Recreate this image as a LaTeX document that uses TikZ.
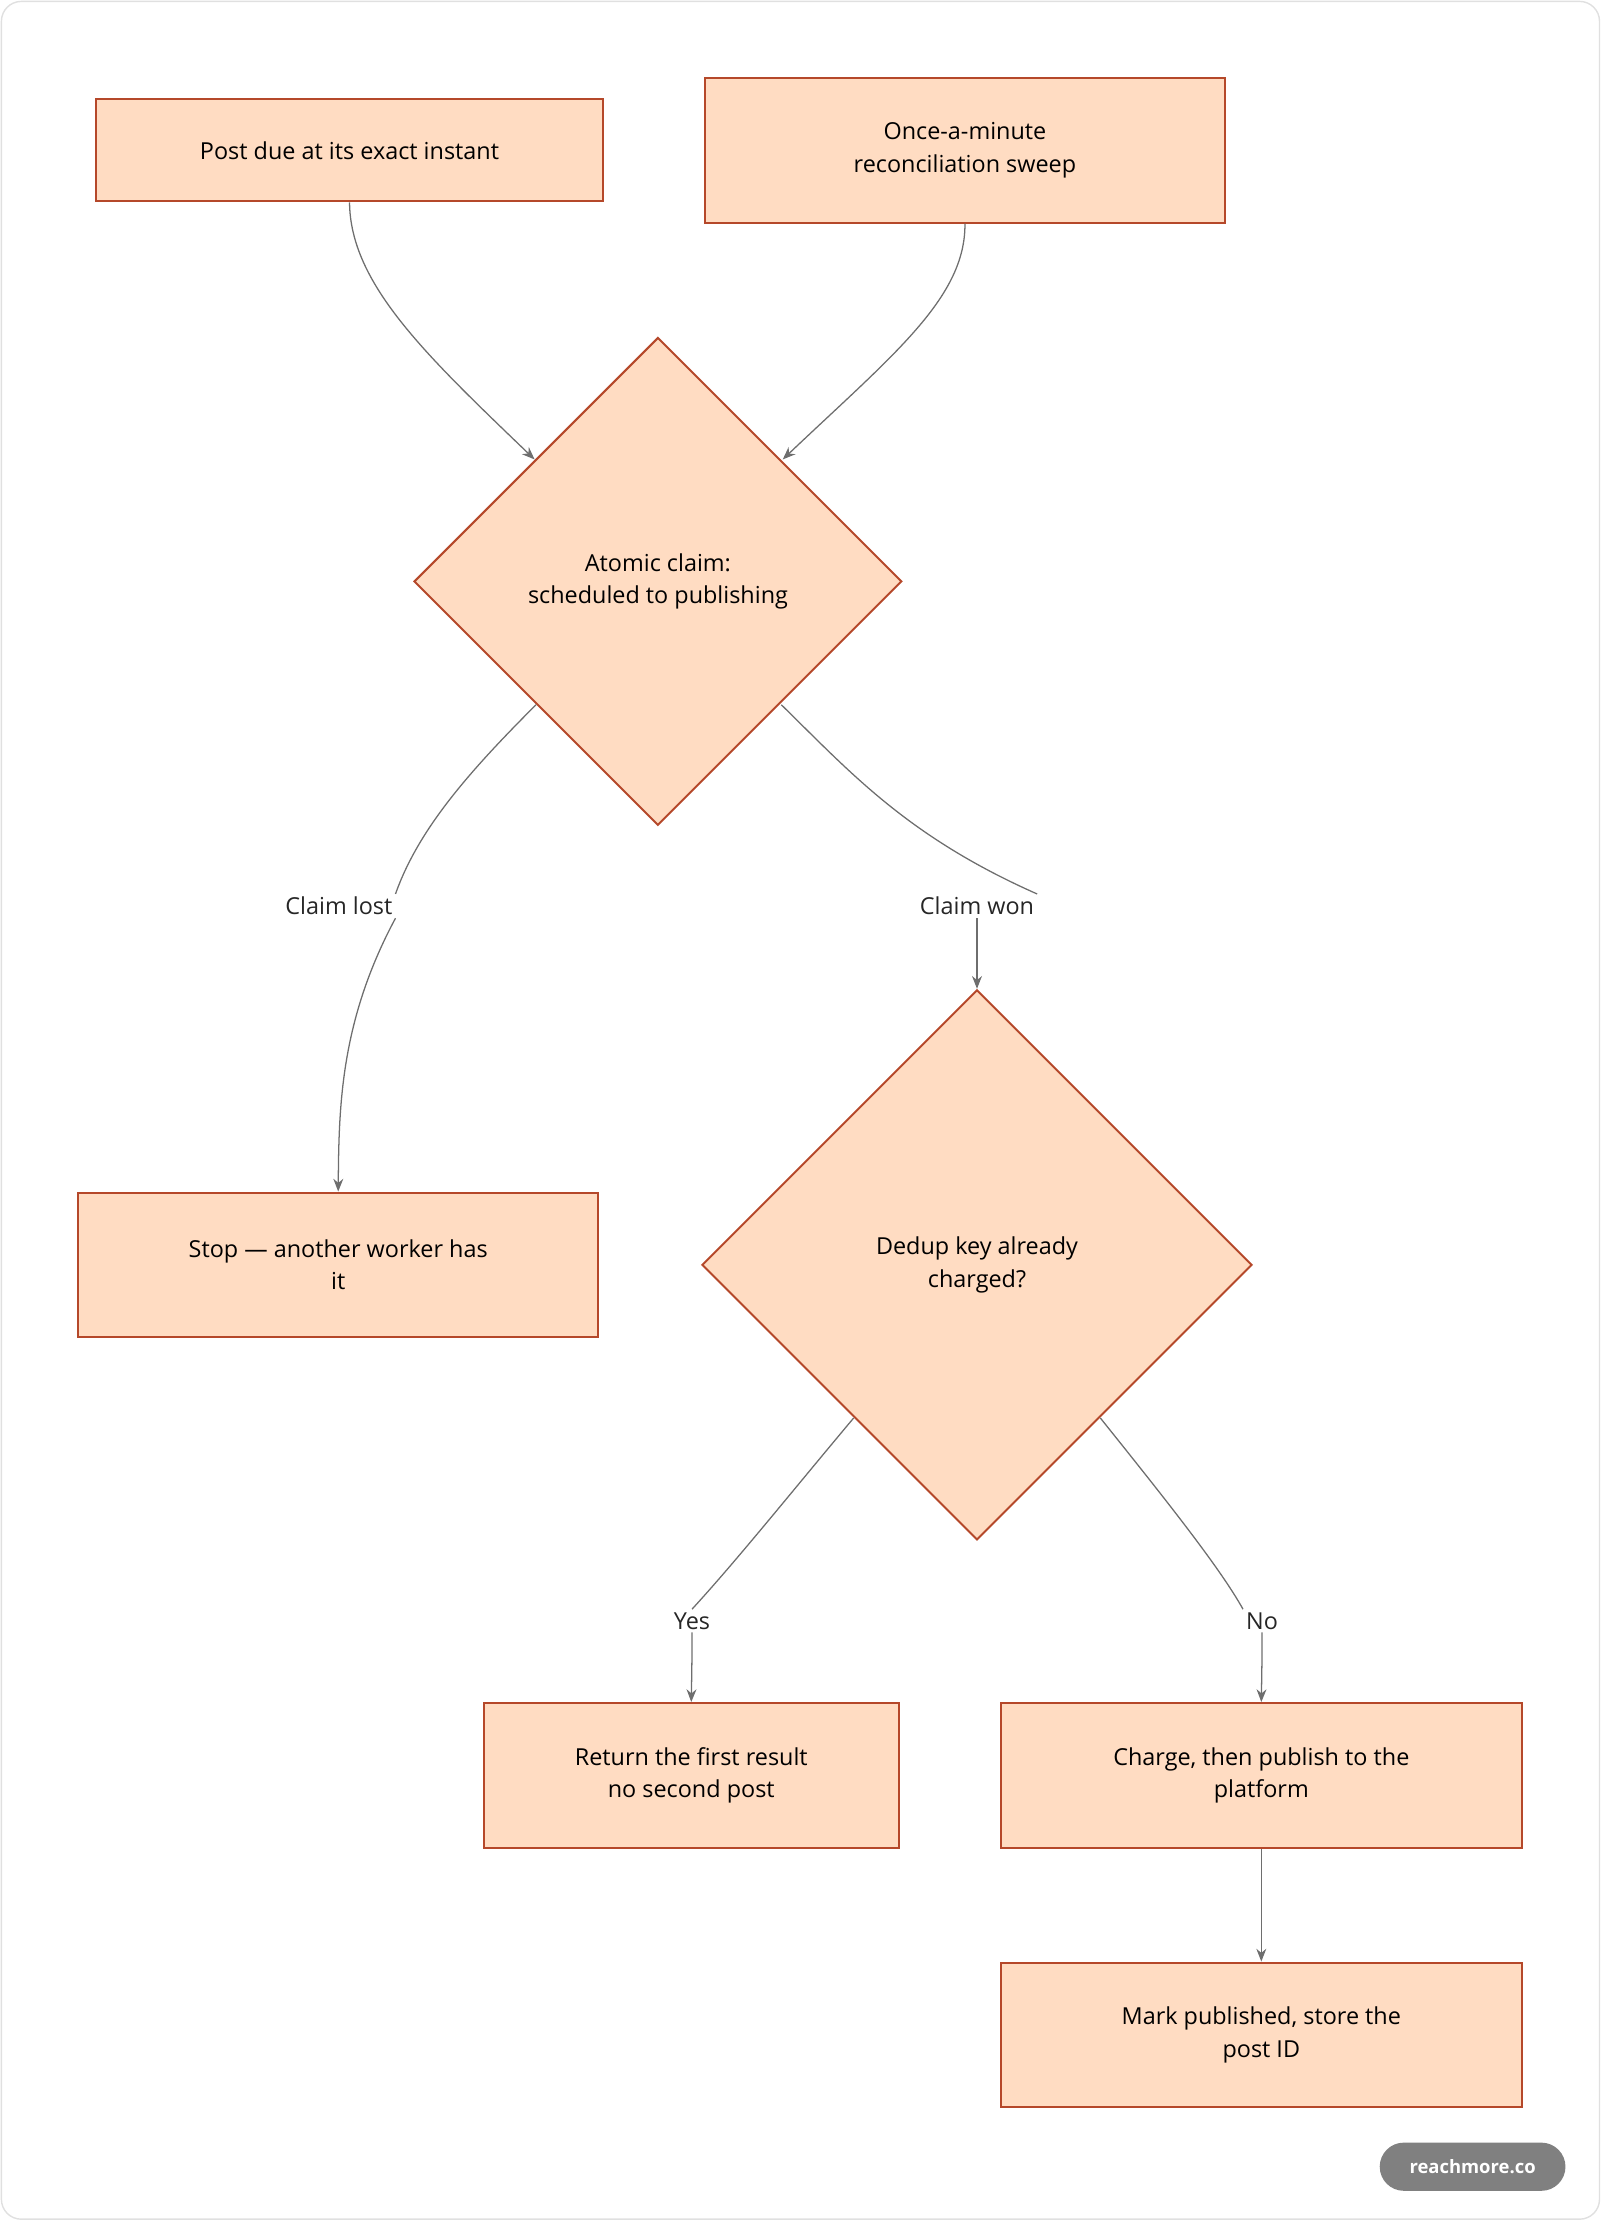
\documentclass[tikz,border=0pt]{standalone}
\usepackage{fontspec}
\setmainfont{Open Sans}
\usetikzlibrary{shapes.geometric,arrows.meta}
\definecolor{nfill}{HTML}{FFDCC2}
\definecolor{nline}{HTML}{B5482A}
\definecolor{eline}{HTML}{6E6E6E}
\begin{document}
\begin{tikzpicture}[x=1pt,y=-1pt,
  font=\fontsize{16.5}{23}\selectfont,
  box/.style={draw=nline,fill=nfill,line width=1.4pt,align=center,inner sep=0pt},
  dia/.style={diamond,draw=nline,fill=nfill,line width=1.4pt,align=center,inner sep=0pt,aspect=1},
  lab/.style={inner sep=2pt,text=black!85},
  edge/.style={draw=eline,line width=0.9pt,-{Stealth[length=9pt,width=7pt]}},
  seg/.style={draw=eline,line width=0.9pt}]
\useasboundingbox (0,0) rectangle (1130,1567);
\draw[black!12,line width=1pt,rounded corners=14pt] (1,1) rectangle (1128,1565);
\node[box,minimum width=357pt,minimum height=72pt] (A) at (246.5,106) {Post due at its exact instant};
\node[box,minimum width=367pt,minimum height=102pt] (B) at (680.5,106) {Once-a-minute\\reconciliation sweep};
\node[dia,minimum size=344pt] (D1) at (464,410) {Atomic claim:\\scheduled to publishing};
\node[box,minimum width=367pt,minimum height=102pt] (C) at (238.5,892) {Stop — another worker has\\it};
\node[dia,minimum size=388pt] (D2) at (689,892) {Dedup key already\\charged?};
\node[box,minimum width=293pt,minimum height=102pt] (E) at (487.5,1252) {Return the first result\\no second post};
\node[box,minimum width=367pt,minimum height=102pt] (F) at (889.5,1252) {Charge, then publish to the\\platform};
\node[box,minimum width=367pt,minimum height=102pt] (G) at (889.5,1435) {Mark published, store the\\post ID};
\node[lab] (L1) at (239,639) {Claim lost};
\node[lab] (L2) at (689,639) {Claim won};
\node[lab] (L3) at (488,1143) {Yes};
\node[lab] (L4) at (890,1143) {No};
\coordinate (d1t1) at (377,324);
\coordinate (d1t2) at (552,324);
\draw[edge] (A.south) .. controls (247,200) and (300,250) .. (d1t1);
\draw[edge] (B.south) .. controls (681,210) and (630,250) .. (d1t2);
\draw[seg] (378,497) .. controls (330,545) and (295,585) .. (L1.north east);
\draw[edge] (L1.south east) .. controls (240,720) and (239,780) .. (C.north);
\draw[seg] (551,497) .. controls (600,545) and (640,590) .. (L2.north east);
\draw[edge] (L2.south) .. controls (689,670) and (689,680) .. (D2.north);
\draw[seg] (602,1000) .. controls (560,1050) and (520,1100) .. (L3.north);
\draw[edge] (L3.south) .. controls (488,1170) .. (E.north);
\draw[seg] (776,1000) .. controls (820,1055) and (860,1105) .. (L4.north west);
\draw[edge] (L4.south) .. controls (890,1170) .. (F.north);
\draw[edge] (F.south) -- (G.north);
\node[fill=black!50,text=white,rounded corners=17pt,minimum width=131pt,minimum height=34pt,inner sep=0pt,font=\fontsize{13}{15}\selectfont\bfseries] (badge) at (1038.5,1528) {reachmore.co};
\end{tikzpicture}
\end{document}
